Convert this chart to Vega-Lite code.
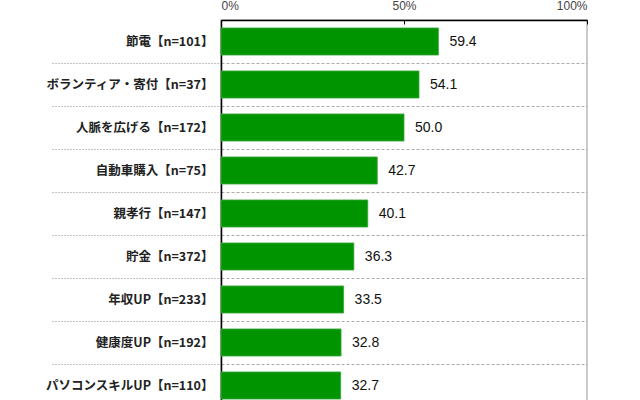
{
  "$schema": "https://vega.github.io/schema/vega-lite/v6.json",
  "autosize": "none",
  "padding": {"left": 221, "top": 20, "right": 53, "bottom": 0},
  "width": 366,
  "height": 387,
  "background": "white",
  "config": {
    "font": "Noto Sans CJK JP",
    "view": {"stroke": "#bbbbbb", "strokeWidth": 1.5}
  },
  "data": {
    "values": [
      {"item": "節電【n=101】", "rate": 59.4},
      {"item": "ボランティア・寄付【n=37】", "rate": 54.1},
      {"item": "人脈を広げる【n=172】", "rate": 50.0},
      {"item": "自動車購入【n=75】", "rate": 42.7},
      {"item": "親孝行【n=147】", "rate": 40.1},
      {"item": "貯金【n=372】", "rate": 36.3},
      {"item": "年収UP【n=233】", "rate": 33.5},
      {"item": "健康度UP【n=192】", "rate": 32.8},
      {"item": "パソコンスキルUP【n=110】", "rate": 32.7}
    ]
  },
  "encoding": {
    "y": {
      "field": "item",
      "type": "nominal",
      "sort": null,
      "scale": {"paddingInner": 0, "paddingOuter": 0},
      "axis": {
        "title": null,
        "domainColor": "black",
        "domainWidth": 1.5,
        "bandPosition": 1,
        "tickExtra": false,
        "ticks": true,
        "tickSize": 170,
        "tickColor": "#888888",
        "tickDash": [1, 2],
        "tickWidth": 1,
        "labelPadding": -162,
        "labelFontSize": 12.5,
        "labelFontWeight": "bold",
        "labelColor": "#222222",
        "labelLimit": 0,
        "grid": true,
        "gridColor": "#aaaaaa",
        "gridDash": [3, 2]
      }
    },
    "x": {
      "field": "rate",
      "type": "quantitative",
      "scale": {"domain": [0, 100]},
      "axis": {
        "orient": "top",
        "title": null,
        "values": [0, 50, 100],
        "labelExpr": "datum.value + '%'",
        "grid": false,
        "domainColor": "black",
        "domainWidth": 1.5,
        "tickColor": "black",
        "tickSize": -4,
        "labelPadding": 12,
        "labelFont": "Liberation Sans",
        "labelFontSize": 12,
        "labelColor": "#444444"
      }
    }
  },
  "layer": [
    {
      "mark": {"type": "bar", "height": {"band": 0.63}, "color": "#019401", "stroke": "#3aa83a", "strokeWidth": 0.8}
    },
    {
      "mark": {"type": "text", "align": "left", "dx": 11, "font": "Liberation Sans", "fontSize": 14, "color": "#111111"},
      "encoding": {"text": {"field": "rate", "type": "quantitative", "format": ".1f"}}
    }
  ]
}
